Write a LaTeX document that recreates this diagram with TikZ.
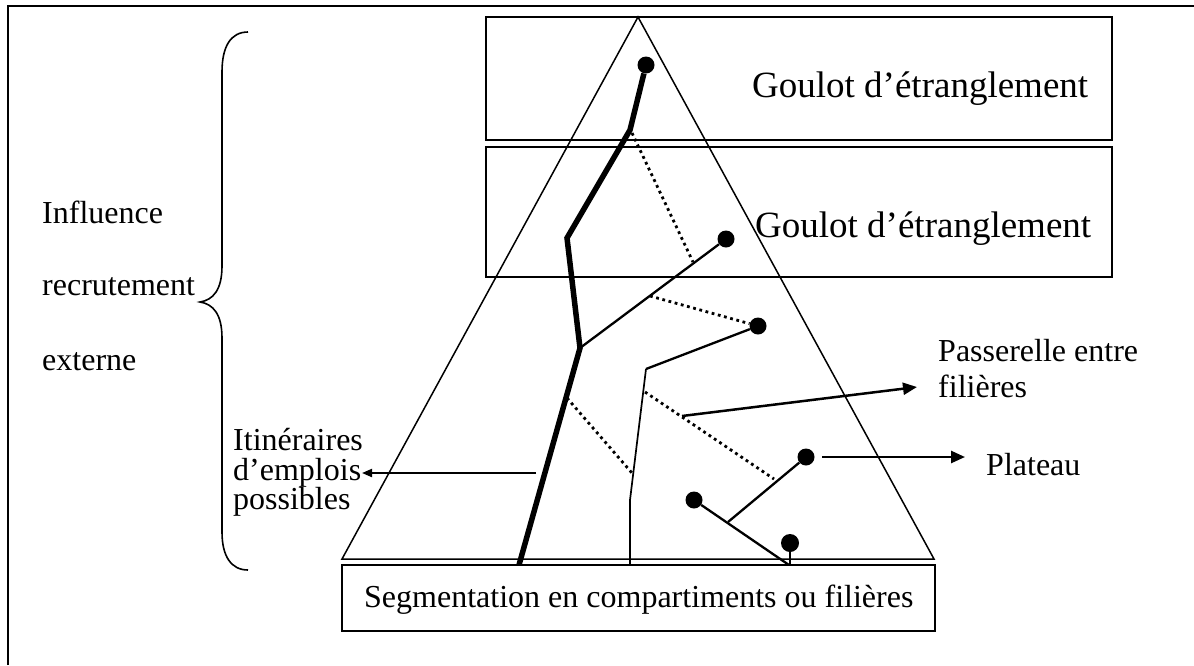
\documentclass[tikz,border=0pt]{standalone}
\usepackage{fontspec}
\setmainfont{Liberation Serif}
\usetikzlibrary{arrows.meta}
\begin{document}
\begin{tikzpicture}[x=1pt,y=-1pt,
  dot/.style={circle,fill=black,inner sep=0pt,minimum size=17pt},
  lbl/.style={anchor=base west,inner sep=0pt,font=\fontsize{32}{36}\selectfont},
  big/.style={anchor=base west,inner sep=0pt,font=\fontsize{37}{42}\selectfont},
  frameline/.style={line width=2.5pt},
  boxline/.style={line width=2pt},
  triline/.style={line width=1.5pt},
  thickpath/.style={line width=5.5pt},
  thinpath/.style={line width=2.3pt},
  finepath/.style={line width=1.7pt},
  dotline/.style={line width=2.8pt,dash pattern=on 2.8pt off 3.6pt},
  arr/.style={line width=2.5pt,-{Triangle[length=14pt,width=12pt]}},
  smallarr/.style={line width=2pt,-{Triangle[length=10pt,width=8pt]}}]
\useasboundingbox (0,0) rectangle (1194,665);

% outer frame (top and left only)
\draw[frameline] (8,665) -- (8,6) -- (1194,6);

% boxes
\draw[boxline] (486,17) rectangle (1112,140);
\draw[boxline] (486,147) rectangle (1112,277);
\draw[boxline] (342,565) rectangle (935,631);

% triangle
\coordinate (apex) at (638,17);
\coordinate (bl) at (342,559);
\coordinate (br) at (934,559);
\draw[triline] (apex) -- (bl) -- (br) -- cycle;

% texts
\node[big] (g1) at (752,97) {Goulot d’étranglement};
\node[big] (g2) at (755,237) {Goulot d’étranglement};
\node[lbl] (seg) at (364,607) {Segmentation en compartiments ou filières};
\node[lbl] (inf) at (42,223) {Influence};
\node[lbl] (rec) at (42,295) {recrutement};
\node[lbl] (ext) at (42,370) {externe};
\node[lbl] (it1) at (233,450) {Itinéraires};
\node[lbl] (it2) at (233,480) {d’emplois};
\node[lbl] (it3) at (233,509) {possibles};
\node[lbl] (pa1) at (938,361) {Passerelle entre};
\node[lbl] (pa2) at (938,397) {filières};
\node[lbl] (pl) at (986,475) {Plateau};

% brace
\draw[line width=1.6pt] (248,32) .. controls (231,32) and (222,46) .. (222,72)
  -- (222,266) .. controls (222,290) and (213,300) .. (200,302)
  .. controls (213,304) and (222,314) .. (222,338)
  -- (222,532) .. controls (222,556) and (231,570) .. (248,570);

% dots
\node[dot] (A) at (646,65) {};
\node[dot] (B) at (726,239) {};
\node[dot] (C) at (758,326) {};
\node[dot] (D) at (806,457) {};
\node[dot] (E) at (694,500) {};
\node[dot,minimum height=18pt,minimum width=16pt] (F) at (790,543) {};

% bend points
\coordinate (t0) at (519,565);
\coordinate (t1) at (580,348);
\coordinate (t2) at (567,238);
\coordinate (t3) at (630,130);
\coordinate (p1) at (646,369);
\coordinate (p2) at (630,500);
\coordinate (p3) at (630,565);
\coordinate (q1) at (789,565);
\coordinate (q2) at (728,522);
\coordinate (q3) at (790,565);

% main thick itinerary
\draw[thickpath] (t0) -- (t1) -- (t2) -- (t3) -- (A);
% branches
\draw[thinpath] (t1) -- (B);
\draw[thinpath] (C) -- (p1);
\draw[finepath] (p1) -- (p2) -- (p3);
\draw[thinpath] (E) -- (q1);
\draw[thinpath] (q2) -- (D);
\draw[thinpath] (F) -- (q3);

% dotted passerelles
\coordinate (d1a) at (632,133);
\coordinate (d1b) at (693,262);
\coordinate (d2a) at (650,296);
\coordinate (d3a) at (567,398);
\coordinate (d3b) at (632,473);
\coordinate (d4a) at (645,392);
\coordinate (d4b) at (774,479);
\draw[dotline] (d1a) -- (d1b);
\draw[dotline] (d2a) -- (C);
\draw[dotline] (d3a) -- (d3b);
\draw[dotline] (d4a) -- (d4b);

% arrows
\coordinate (pa0) at (682,416);
\coordinate (pa9) at (917,387);
\draw[arr] (pa0) -- (pa9);
\coordinate (pl0) at (822,457);
\coordinate (pl9) at (965,457);
\draw[arr] (pl0) -- (pl9);
\coordinate (it0) at (536,473);
\coordinate (it9) at (362,473);
\draw[smallarr] (it0) -- (it9);
\end{tikzpicture}
\end{document}
